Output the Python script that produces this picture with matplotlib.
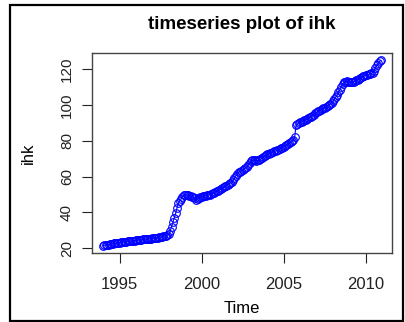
import numpy as np
import matplotlib
matplotlib.use("Agg")
import matplotlib.pyplot as plt
from matplotlib.patches import Rectangle

plt.rcParams['font.family'] = ['Liberation Sans', 'DejaVu Sans']

# monthly ihk values, Jan..Dec
y1994 = [21.5, 21.7, 21.8, 22.0, 22.1, 22.3, 22.4, 22.6, 22.7, 22.8, 23.0, 23.1]
y1995 = [23.2, 23.3, 23.4, 23.5, 23.6, 23.7, 23.8, 23.9, 24.0, 24.1, 24.2, 24.3]
y1996 = [24.4, 24.5, 24.6, 24.7, 24.8, 24.9, 25.0, 25.1, 25.2, 25.3, 25.3, 25.4]
y1997 = [25.5, 25.6, 25.7, 25.8, 26.0, 26.1, 26.3, 26.5, 26.7, 26.9, 27.1, 27.3]
y1998 = [28.0, 29.5, 32.0, 34.5, 37.0, 39.5, 42.5, 45.0, 46.5, 47.5, 48.5, 49.5]
y1999 = [50.0, 49.8, 49.5, 49.3, 49.0, 48.8, 48.5, 47.8, 47.0, 47.3, 48.0, 48.5]
y2000 = [48.8, 49.0, 49.2, 49.4, 49.6, 49.8, 50.0, 50.3, 50.6, 51.0, 51.4, 51.8]
y2001 = [52.2, 52.6, 53.0, 53.5, 54.0, 54.5, 55.0, 55.5, 56.0, 56.6, 57.2, 58.0]
y2002 = [59.0, 60.5, 61.5, 62.3, 62.8, 63.2, 63.6, 64.2, 64.8, 65.5, 66.5, 67.5]
y2003 = [68.5, 69.0, 69.2, 69.0, 68.8, 69.0, 69.3, 69.7, 70.2, 70.8, 71.5, 72.0]
y2004 = [72.4, 72.7, 73.0, 73.3, 73.6, 74.0, 74.3, 74.6, 75.0, 75.3, 75.7, 76.1]
y2005 = [76.5, 77.0, 77.5, 78.0, 78.6, 79.2, 79.8, 80.5, 82.0, 88.5, 89.3, 89.8]
y2006 = [90.2, 90.6, 91.0, 91.3, 91.6, 92.0, 92.5, 93.0, 93.5, 94.0, 94.6, 95.2]
y2007 = [95.8, 96.3, 96.8, 97.2, 97.6, 98.0, 98.5, 99.0, 99.5, 100.0, 100.6, 101.2]
y2008 = [102.0, 103.0, 104.2, 105.5, 107.0, 108.5, 110.0, 111.5, 112.6, 113.0, 113.2, 113.0]
y2009 = [112.8, 112.7, 112.8, 113.0, 113.3, 113.6, 114.0, 114.5, 115.0, 115.5, 116.0, 116.3]
y2010 = [116.5, 116.8, 117.0, 117.3, 117.5, 118.0, 119.0, 120.5, 122.0, 123.3, 124.2, 124.8]

ihk = np.array(y1994 + y1995 + y1996 + y1997 + y1998 + y1999 + y2000 + y2001 + y2002
               + y2003 + y2004 + y2005 + y2006 + y2007 + y2008 + y2009 + y2010)
start_year = 1994
t = start_year + np.arange(len(ihk)) / 12.0

xticks = [1995, 2000, 2005, 2010]
yticks = [20, 40, 60, 80, 100, 120]

fig = plt.figure(figsize=(4.06, 3.22), dpi=100)
ax = fig.add_axes([92/406, 1 - 253/322, 300/406, 200/322])

ax.plot(t, ihk, color='blue', lw=0.8, marker='o', ms=5.5, mfc='none', mec='blue', mew=0.8)

# R style 4% padding
xr = t.max() - t.min()
yr = ihk.max() - ihk.min()
ax.set_xlim(t.min() - 0.04 * xr, t.max() + 0.04 * xr)
ax.set_ylim(ihk.min() - 0.04 * yr, ihk.max() + 0.04 * yr)

ax.set_xticks(xticks)
ax.set_yticks(yticks)
ax.set_yticklabels([str(v) for v in yticks], rotation=90, va='center')
ax.tick_params(length=7, width=0.8, colors='#222222', labelsize=11)
ax.tick_params(axis='x', labelsize=12, pad=10)
ax.tick_params(axis='y', pad=6)
for s in ax.spines.values():
    s.set_color('#444444')
    s.set_linewidth(1.0)

ax.set_xlabel('Time', fontsize=12, labelpad=7)
ax.set_ylabel('ihk', fontsize=12, labelpad=17)
ax.set_title('timeseries plot of ihk', fontsize=13.5, fontweight='bold', pad=17)

fig.patches.append(Rectangle((10/406, 1/322), 393/406, 316/322, transform=fig.transFigure,
                             fill=False, edgecolor='black', lw=1.6))

fig.savefig('out.png', dpi=100)
